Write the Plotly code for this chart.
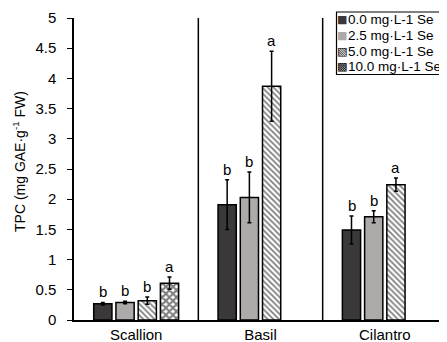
import plotly.graph_objects as go

categories = ["Scallion", "Basil", "Cilantro"]
series_names = ["0.0 mg·L-1 Se", "2.5 mg·L-1 Se", "5.0 mg·L-1 Se", "10.0 mg·L-1 Se"]
tpc_0 = [0.27, 1.91, 1.49]
tpc_25 = [0.29, 2.03, 1.71]
tpc_5 = [0.32, 3.87, 2.24]
tpc_10 = [0.61, None, None]
err_0 = [0.02, 0.41, 0.23]
err_25 = [0.02, 0.42, 0.10]
err_5 = [0.06, 0.58, 0.11]
err_10 = [0.10, None, None]
letters_0 = ["b", "b", "b"]
letters_25 = ["b", "b", "b"]
letters_5 = ["b", "a", "a"]
letters_10 = ["a", None, None]
y_ticks = [0, 0.5, 1, 1.5, 2, 2.5, 3, 3.5, 4, 4.5, 5]
y_title = "TPC (mg GAE·g<sup>-1</sup> FW)"

values = [tpc_0, tpc_25, tpc_5, tpc_10]
errors = [err_0, err_25, err_5, err_10]
letters = [letters_0, letters_25, letters_5, letters_10]
legend_symbols = ["■", "■", "▧", "▩"]

FONT = "Liberation Sans, Arial, DejaVu Sans, sans-serif"
W, H = 447, 342
ML, MR, MT, MB = 66, 8, 10, 30
PW, PH = W - ML - MR, H - MT - MB
BARGAP = 0.285
BARGROUPGAP = 0.18

markers = [
    dict(color="#3a3838", line=dict(color="black", width=1.5)),
    dict(color="#aeaaaa", line=dict(color="black", width=1.5)),
    dict(color="white", line=dict(color="black", width=1.5),
         pattern=dict(shape="\\", fgcolor="black", bgcolor="white", size=4, solidity=0.45)),
    dict(color="white", line=dict(color="black", width=1.5),
         pattern=dict(shape="x", fgcolor="black", bgcolor="white", size=5, solidity=0.65)),
]
symbol_colors = ["#3a3838", "#aeaaaa", "black", "black"]

fig = go.Figure()
for name, v, e, m in zip(series_names, values, errors, markers):
    fig.add_trace(go.Bar(
        x=categories, y=v, name=name, marker=m, showlegend=False,
        error_y=dict(type="data", array=e, color="black", thickness=1.5, width=2),
    ))

slot = (1 - BARGAP) / 4
annotations = []
for i, (v, e, lab) in enumerate(zip(values, errors, letters)):
    for j in range(len(categories)):
        if v[j] is None or lab[j] is None:
            continue
        annotations.append(dict(
            x=j + (i - 1.5) * slot, y=v[j] + e[j], xref="x", yref="y",
            text=lab[j], showarrow=False, yanchor="bottom", yshift=0,
            font=dict(family=FONT, size=15, color="black"),
        ))

def px_x(px):
    return (px - ML) / PW

def px_y(py):
    return (H - MB - py) / PH

# y-axis title
annotations.append(dict(
    x=px_x(11), y=px_y(154), xref="paper", yref="paper", showarrow=False,
    text=y_title, textangle=-90, xanchor="center", yanchor="middle",
    font=dict(family=FONT, size=14, color="black"),
))

# custom legend
leg_left, leg_right, leg_top, leg_bottom = 328.5, 439, 4, 66.5
row_h = (leg_bottom - leg_top) / 4
for k, (name, sym, sc) in enumerate(zip(series_names, legend_symbols, symbol_colors)):
    cy = leg_top + row_h * (k + 0.5)
    annotations.append(dict(
        x=px_x(334), y=px_y(cy), xref="paper", yref="paper", showarrow=False,
        text=sym, xanchor="center", yanchor="middle", borderpad=0,
        font=dict(family="DejaVu Sans", size=11, color=sc),
    ))
    annotations.append(dict(
        x=px_x(339), y=px_y(cy), xref="paper", yref="paper", showarrow=False,
        text=name, xanchor="left", yanchor="middle", borderpad=0,
        font=dict(family=FONT, size=13.5, color="black"),
    ))

shapes = []
for xb in [0.5, 1.5]:
    shapes.append(dict(type="line", xref="x", yref="y", x0=xb, x1=xb, y0=0, y1=5,
                       line=dict(color="black", width=1.5)))
shapes.append(dict(type="line", xref="paper", yref="y", x0=1, x1=1, y0=0, y1=5,
                   line=dict(color="black", width=1.5)))
shapes.append(dict(type="rect", xref="paper", yref="paper",
                   x0=px_x(leg_left), x1=px_x(leg_right), y0=px_y(leg_bottom), y1=px_y(leg_top),
                   fillcolor="white", line=dict(color="black", width=1.2), layer="above"))

fig.update_layout(
    width=W, height=H,
    margin=dict(l=ML, r=MR, t=MT, b=MB, autoexpand=False),
    paper_bgcolor="white", plot_bgcolor="white",
    barmode="group", bargap=BARGAP, bargroupgap=BARGROUPGAP,
    font=dict(family=FONT, size=15, color="black"),
    annotations=annotations, shapes=shapes,
    xaxis=dict(
        showline=True, linecolor="black", linewidth=1.5, ticks="", showgrid=False,
        tickfont=dict(size=15), ticklabelstandoff=0, range=[-0.5, 2.5], zeroline=False,
    ),
    yaxis=dict(
        range=[0, 5], tickvals=y_ticks, ticktext=[f"{t:g}" for t in y_ticks],
        showline=True, linecolor="black", linewidth=1.5, ticks="outside", ticklen=5,
        tickcolor="black", tickwidth=1.2, showgrid=False, zeroline=False,
        tickfont=dict(size=15), ticklabelstandoff=8,
    ),
)

fig.write_html("out.html")
